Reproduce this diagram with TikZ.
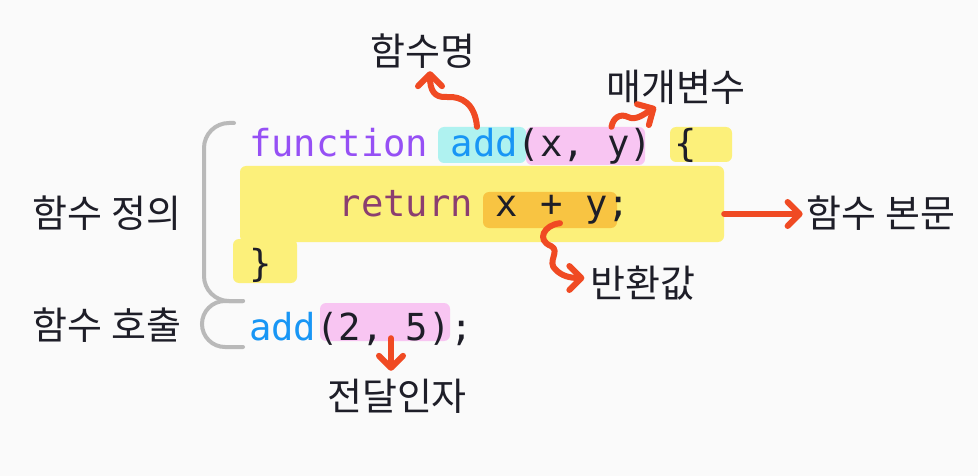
\documentclass[tikz,border=0pt]{standalone}
\usepackage{fontspec}
\usepackage{tikz}
\usetikzlibrary{arrows.meta}
\newfontfamily\codefont{DejaVu Sans Mono}
\newfontfamily\kofont{Noto Sans CJK KR}
\definecolor{bgcol}{RGB}{250,250,250}
\definecolor{codedark}{RGB}{30,30,40}
\definecolor{fnpurple}{RGB}{150,80,245}
\definecolor{fnblue}{RGB}{24,150,245}
\definecolor{retplum}{RGB}{139,62,112}
\definecolor{cyanhl}{RGB}{175,242,240}
\definecolor{pinkhl}{RGB}{248,197,242}
\definecolor{markyellow}{RGB}{252,240,122}
\definecolor{orangehl}{RGB}{248,196,66}
\definecolor{arrowred}{RGB}{240,74,35}
\definecolor{bracegray}{RGB}{185,185,185}

\begin{document}
\begin{tikzpicture}[x=1pt,y=-1pt,
	code/.style={inner sep=0pt,anchor=base west,text=codedark,font=\codefont\fontsize{37.2}{44}\selectfont},
	lbl/.style={inner sep=4pt,text height=29pt,text depth=1pt,text=codedark,font=\kofont\fontsize{38}{44}\selectfont},
	hl/.style={rectangle,rounded corners=6pt,inner sep=0pt},
	arr/.style={draw=arrowred,line width=6pt,line cap=round,line join=round,-{Straight Barb[round,length=12pt,width=24pt]}},
	brk/.style={draw=bracegray,line width=4pt,line cap=round}]
			\fill[bgcol] (0,0) rectangle (978,476);
			\useasboundingbox (0,0) rectangle (978,476);
			\node[hl,fill=pinkhl,minimum width=119pt,minimum height=38pt] (hlparam) at (585.5,146) {};
			\node[hl,fill=cyanhl,minimum width=88pt,minimum height=36pt] (hlname) at (482,145) {};
			\node[hl,fill=markyellow,minimum width=62pt,minimum height=35pt] (hlbrace) at (701,144.5) {};
			\node[hl,fill=markyellow,minimum width=484pt,minimum height=76pt] (hlbody) at (482,204) {};
			\node[hl,fill=markyellow,minimum width=64pt,minimum height=44pt] (hlclose) at (265,261) {};
			\node[hl,fill=orangehl,minimum width=134pt,minimum height=36pt] (hlret) at (550,210) {};
			\node[hl,fill=pinkhl,minimum width=130pt,minimum height=38pt] (hlargs) at (385,322) {};
			\node[code] (l1) at (249,157) {\textcolor{fnpurple}{function} \textcolor{fnblue}{add}(x, y) \{};
			\node[code] (l2) at (338.6,217) {\textcolor{retplum}{return} x + y;};
			\node[code] (l3) at (249,276) {\}};
			\node[code] (l4) at (249,340) {\textcolor{fnblue}{add}(2, 5);};
			\draw[brk,rounded corners=25pt] (234,123) -- (204,123) -- (204,301) -- (243,301);
			\draw[brk,rounded corners=23pt] (243,301) -- (202,301) -- (202,347) -- (243,347);
			\node[lbl] (lname) at (423,52) {함수명};
			\node[lbl] (lparam) at (676,88) {매개변수};
			\node[lbl] (lbody) at (881,214) {함수 본문};
			\node[lbl] (lret) at (643,283) {반환값};
			\node[lbl] (largs) at (397,396) {전달인자};
			\node[lbl] (ldef) at (107,213) {함수 정의};
			\node[lbl] (lcall) at (107,325) {함수 호출};
			\draw[arr] ([xshift=-5pt]hlname.north) .. controls (475,104) and (462,96) .. (447,97) .. controls (434,98) and (430,90) .. ([xshift=7pt]lname.south);
			\draw[arr] ([xshift=26pt]hlparam.north) .. controls (613,118) and (620,113) .. (628,117) .. controls (636,121) and (644,114) .. ([xshift=-20pt]lparam.south);
			\draw[arr] (hlbody.east |- lbody.west) -- (lbody.west);
			\draw[arr] ([xshift=10pt,yshift=5pt]hlret.south) .. controls (544,225) and (536,240) .. (551,246) .. controls (561,251) and (546,262) .. (556,270) .. controls (562,276) and (570,278) .. ([xshift=-2pt,yshift=5pt]lret.west);
			\draw[arr] ([xshift=6pt,yshift=3pt]hlargs.south) -- ([xshift=-6pt,yshift=6pt]largs.north);
		\end{tikzpicture}
\end{document}
